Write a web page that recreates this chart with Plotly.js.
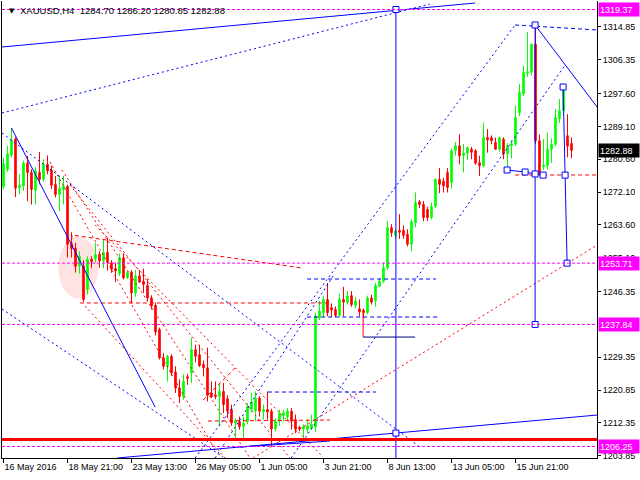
<!DOCTYPE html>
<html>
<head>
<meta charset="utf-8">
<script src="https://cdn.plot.ly/plotly-3.0.1.min.js"></script>
<style>html,body{margin:0;padding:0;background:#fff;}#chart{width:640px;height:480px;}</style>
</head>
<body>
<div id="chart"></div>
<script>
// ---- Chart data (XAUUSD, H4) ----
const tickBars   = [0, 16, 32, 48, 64, 80, 96, 112, 128];
const tickLabels = ["16 May 2016", "18 May 21:00", "23 May 13:00", "26 May 05:00", "1 Jun 05:00",
                    "3 Jun 21:00", "8 Jun 13:00", "13 Jun 05:00", "15 Jun 21:00"];
const priceTicks = [1203.85, 1212.35, 1220.85, 1229.35, 1246.35, 1255.10, 1263.60,
                    1272.10, 1280.60, 1289.10, 1297.60, 1306.35, 1314.85];

const openP = [1273.5,1278.0,1281.7,1285.8,1273.2,1273.7,1279.6,1277.2,1272.6,1277.2,
 1275.4,1279.3,1277.8,1274.1,1271.5,1272.8,1273.6,1258.6,1257.5,1253.0,
 1253.0,1246.9,1254.7,1254.8,1256.0,1254.3,1256.5,1253.8,1252.3,1251.0,
 1255.1,1249.9,1251.4,1246.0,1250.4,1249.0,1247.9,1244.7,1242.8,1236.5,
 1229.2,1227.0,1229.6,1225.5,1221.4,1219.2,1224.3,1225.3,1231.3,1230.0,
 1227.5,1226.6,1220.1,1219.6,1219.2,1220.5,1218.6,1215.8,1212.3,1212.7,
 1211.4,1212.7,1215.8,1215.4,1218.8,1215.2,1215.8,1215.4,1210.8,1212.8,
 1214.2,1213.9,1215.4,1213.2,1211.2,1210.8,1210.7,1211.0,1211.3,1239.5,
 1240.9,1244.3,1242.2,1241.7,1240.2,1244.3,1243.5,1245.3,1242.8,1241.9,
 1241.5,1240.9,1244.7,1244.0,1247.7,1249.0,1252.5,1262.9,1260.9,1262.2,
 1262.2,1261.2,1258.6,1264.2,1269.6,1268.9,1267.6,1265.5,1268.5,1275.4,
 1274.9,1277.2,1274.6,1282.8,1284.1,1281.5,1282.2,1283.2,1282.8,1279.7,
 1278.9,1286.2,1286.2,1285.0,1283.2,1285.8,1282.0,1284.2,1284.5,1292.7,
 1297.5,1302.9,1303.1,1310.4,1285.4,1278.6,1278.9,1283.2,1284.5,1291.1,
 1293.2,1286.7,1284.70];
const highP = [1281.0,1284.1,1288.7,1286.3,1276.7,1280.2,1281.5,1278.0,1278.5,1282.5,
 1280.6,1281.6,1279.0,1276.3,1276.3,1276.3,1274.0,1261.7,1259.0,1256.8,
 1254.5,1255.5,1255.5,1259.0,1256.8,1259.9,1260.3,1254.5,1253.9,1256.2,
 1256.2,1251.8,1251.9,1251.9,1251.9,1252.3,1249.5,1245.4,1243.5,1237.0,
 1230.4,1229.9,1230.1,1227.0,1223.6,1224.9,1225.0,1234.4,1232.6,1232.6,
 1228.5,1231.8,1223.1,1223.1,1222.7,1222.7,1219.5,1217.1,1213.5,1214.0,
 1214.0,1217.5,1220.1,1220.5,1219.3,1217.1,1220.5,1216.0,1213.5,1215.8,
 1215.8,1216.2,1216.2,1214.5,1211.6,1212.0,1213.2,1214.5,1240.9,1244.0,
 1245.3,1248.6,1243.3,1242.5,1245.8,1247.6,1246.5,1246.5,1245.0,1244.3,
 1242.0,1245.3,1245.5,1248.6,1249.8,1253.8,1264.6,1263.8,1262.5,1266.4,
 1263.5,1262.5,1265.0,1272.0,1270.0,1269.8,1268.3,1269.4,1275.6,1278.3,
 1275.8,1278.3,1283.4,1285.1,1287.1,1284.5,1284.0,1283.8,1283.2,1281.5,
 1290.1,1288.4,1286.8,1286.2,1286.5,1286.3,1284.8,1285.5,1294.5,1300.1,
 1304.8,1313.5,1308.5,1315.6,1287.0,1285.8,1287.5,1286.0,1293.6,1296.2,
 1299.6,1292.3,1286.20];
const lowP = [1272.8,1277.3,1281.1,1270.8,1271.6,1272.4,1269.8,1268.9,1268.9,1274.1,
 1274.8,1276.7,1272.9,1270.7,1267.2,1268.9,1255.2,1255.2,1251.3,1251.0,
 1243.6,1245.6,1252.4,1253.8,1252.5,1252.4,1251.8,1251.2,1248.8,1250.4,
 1249.5,1249.6,1243.3,1245.0,1248.6,1246.0,1243.9,1241.7,1235.0,1228.75,
 1226.2,1223.1,1224.6,1220.1,1217.5,1218.4,1222.2,1222.7,1228.0,1226.8,
 1224.4,1217.9,1218.8,1218.5,1211.5,1214.9,1213.6,1211.6,1208.5,1210.6,
 1208.4,1212.0,1215.2,1212.8,1214.0,1213.2,1213.2,1206.3,1210.2,1211.6,
 1212.8,1212.8,1210.6,1209.7,1210.2,1208.5,1209.7,1210.5,1210.0,1239.0,
 1239.7,1239.9,1239.9,1239.7,1239.7,1240.0,1243.0,1242.4,1242.0,1239.9,
 1239.5,1240.5,1243.0,1242.5,1247.5,1248.6,1252.0,1260.5,1260.0,1260.0,
 1260.0,1258.0,1256.8,1263.0,1268.0,1264.6,1264.6,1265.0,1268.0,1271.8,
 1272.0,1272.0,1273.0,1281.6,1279.3,1277.2,1280.4,1280.6,1279.2,1276.3,
 1278.6,1282.3,1284.5,1283.2,1282.6,1280.6,1278.5,1280.8,1284.0,1291.8,
 1297.0,1302.0,1302.2,1284.5,1276.5,1277.8,1278.0,1279.7,1284.0,1290.0,
 1292.0,1281.1,1280.85];
const closeP = [1279.5,1282.0,1285.5,1273.1,1273.9,1279.6,1277.2,1272.8,1277.6,1275.4,
 1279.3,1277.6,1273.9,1271.5,1273.1,1273.7,1258.6,1257.5,1252.9,1255.5,
 1244.3,1254.7,1254.1,1255.9,1254.3,1256.5,1253.9,1252.1,1251.7,1255.1,
 1249.9,1251.3,1246.0,1250.4,1248.8,1248.2,1244.7,1242.6,1235.9,1229.2,
 1227.0,1229.6,1225.3,1221.4,1219.2,1223.1,1223.9,1231.3,1229.6,1227.2,
 1226.6,1219.5,1219.2,1219.2,1220.5,1217.1,1215.4,1212.3,1213.0,1211.4,
 1212.3,1216.6,1217.7,1218.8,1215.4,1215.8,1215.2,1210.8,1212.8,1214.9,
 1215.0,1215.4,1212.8,1210.8,1210.8,1211.5,1211.6,1212.0,1240.0,1241.3,
 1244.3,1240.9,1241.6,1240.2,1244.3,1243.6,1245.2,1243.0,1243.9,1241.1,
 1240.9,1244.7,1243.6,1247.9,1249.0,1252.5,1262.9,1261.6,1262.0,1261.7,
 1260.9,1258.6,1264.4,1269.4,1268.9,1265.5,1265.5,1268.3,1275.4,1274.1,
 1273.7,1273.3,1282.8,1284.1,1281.5,1282.2,1283.6,1282.4,1279.6,1278.9,
 1286.2,1285.6,1285.4,1283.2,1286.2,1282.0,1284.1,1284.6,1291.4,1297.9,
 1303.1,1303.3,1310.4,1285.4,1277.0,1279.1,1283.2,1284.5,1291.4,1293.2,
 1298.5,1284.0,1282.88];

// horizontal price levels (magenta) and current price
const levelPrices = [1319.37, 1253.71, 1237.84, 1206.25];
const lastPrice = 1282.88;
const supportLine = 1208.05;   // thick red level

// drawn objects, as [bar index, price] points
const blueSolid = [
  [[-0.375,1309.66],[117.9,1321.05]],
  [[28.4,1203.27],[148.4,1214.39]],
  [[59.1,1206.1],[81.6,1207.66]],
  [[2,1288.69],[37.9,1216.46]],
  [[132.9,1315.36],[148.4,1294.13]],
  [[125.9,1277.82],[130.4,1277.3],[132.9,1276.8],[134.9,1276.5]],
  [[132.9,1315.36],[132.9,1237.84]],
  [[139.9,1299.31],[140.4,1276.5],[140.6,1259.7],[140.9,1253.71]],
  [[98.1,1319.37],[98.1,1203.27]]
];
const blueDotted = [
  [[-0.375,1292.57],[106.6,1320.79]],
  [[-0.375,1287.4],[104.1,1206.1]],
  [[-0.375,1241.83],[54.9,1203.52]],
  [[47.9,1203.27],[127.9,1315.36]],
  [[71.9,1203.27],[140.4,1305.0]],
  [[52.9,1203.27],[82.4,1250.37]]
];
const blueDashed = [
  [[75.9,1249.6],[108.1,1249.6]],
  [[75.9,1239.77],[109.1,1239.77]],
  [[66.1,1220.35],[93.1,1220.35]],
  [[127.9,1315.36],[148.4,1314.06]]
];
const navySolid = [[[89.9,1234.58],[102.9,1234.58]]];
const redSolid  = [[[89.9,1240.8],[89.9,1234.58]]];
const redDashed = [
  [[17.1,1258.14],[17.1,1260.99],[74.6,1252.45]],
  [[19.1,1243.4],[82.1,1243.4]],
  [[51.1,1212.84],[81.6,1213.1]],
  [[127.9,1276.53],[148.4,1276.53]],
  [[49.9,1218.27],[57.9,1226.56]]
];
const redDotted = [
  [[62.4,1203.27],[148.4,1258.4]],
  [[11.6,1279.89],[52.9,1205.33]],
  [[14.6,1277.82],[61.6,1203.27]],
  [[16.6,1273.94],[71.6,1203.27]],
  [[20.4,1242.61],[55.4,1203.27]],
  [[22.9,1263.58],[79.9,1203.52]]
];
const markers = [[98.1,1319.37],[98.1,1209.72],[132.9,1315.36],[125.9,1277.82],[130.4,1277.3],
  [132.9,1276.8],[134.9,1276.5],[140.4,1276.5],[139.9,1299.31],[140.9,1253.71],[132.9,1237.84]];
const highlightZone = {bars:[13.7,23.7], prices:[1244.55,1260.6]};

// ---- Build traces ----
const barIdx = openP.map((_, i) => i);
const traces = [];
function addLines(list, color, width, dash) {
  list.forEach(pts => traces.push({
    type: 'scatter', mode: 'lines', x: pts.map(p => p[0]), y: pts.map(p => p[1]),
    line: {color: color, width: width, dash: dash}, hoverinfo: 'skip', showlegend: false
  }));
}
traces.push({
  type: 'candlestick', x: barIdx, open: openP, high: highP, low: lowP, close: closeP,
  increasing: {line: {color: '#00FF00', width: 1}, fillcolor: '#00FF00'},
  decreasing: {line: {color: '#FF0000', width: 1}, fillcolor: '#FF0000'},
  whiskerwidth: 0, showlegend: false, hoverinfo: 'skip'
});
addLines(redDotted, '#FF0000', 1, '2px,3px');
addLines(redDashed, '#FF0000', 1, '4px,3px');
addLines(redSolid, '#FF0000', 1, 'solid');
addLines(blueDotted, '#0000FF', 1, '2px,3px');
addLines(blueDashed, '#0000FF', 1, '4px,3px');
addLines(blueSolid, '#0000FF', 1, 'solid');
addLines(navySolid, '#000080', 1, 'solid');
traces.push({
  type: 'scatter', mode: 'markers', x: markers.map(p => p[0]), y: markers.map(p => p[1]),
  marker: {symbol: 'square', size: 6, color: '#FFFFFF', line: {color: '#0000FF', width: 1}},
  hoverinfo: 'skip', showlegend: false
});

const shapes = [];
shapes.push({type: 'circle', xref: 'x', yref: 'y', layer: 'below',
  x0: highlightZone.bars[0], x1: highlightZone.bars[1], y0: highlightZone.prices[0], y1: highlightZone.prices[1],
  fillcolor: '#FFE2E2', line: {width: 0}});
levelPrices.forEach(p => shapes.push({type: 'line', xref: 'paper', yref: 'y', x0: 0, x1: 1, y0: p, y1: p,
  line: {color: '#FF00FF', width: 1, dash: '3px,2px'}}));
shapes.push({type: 'line', xref: 'paper', yref: 'y', x0: 0, x1: 1, y0: supportLine, y1: supportLine,
  line: {color: '#FF0000', width: 3}});

const fontFam = 'Liberation Sans, Arial, sans-serif';
const annotations = [];
levelPrices.forEach(p => annotations.push({
  xref: 'paper', yref: 'y', x: 1, y: p, xanchor: 'left', yanchor: 'middle', xshift: 1,
  text: p.toFixed(2), showarrow: false, bgcolor: '#FF00FF', borderpad: 1, width: 38, height: 11,
  align: 'left', font: {family: fontFam, size: 9, color: '#FFFFFF'}
}));
annotations.push({
  xref: 'paper', yref: 'y', x: 1, y: lastPrice, xanchor: 'left', yanchor: 'middle', xshift: 1,
  text: lastPrice.toFixed(2), showarrow: false, bgcolor: '#000000', borderpad: 1, width: 38, height: 11,
  align: 'left', font: {family: fontFam, size: 9, color: '#FFFFFF'}
});
annotations.push({xref: 'paper', yref: 'paper', x: 0.0269, y: 0.9803, xanchor: 'left', yanchor: 'middle',
  text: 'XAUUSD,H4  ' + [openP[142], highP[142], lowP[142], closeP[142]].map(v => v.toFixed(2)).join(' '),
  showarrow: false, font: {family: fontFam, size: 9.5, color: '#000000'}});
annotations.push({xref: 'paper', yref: 'paper', x: 0.0085, y: 0.979, xanchor: 'left', yanchor: 'middle',
  text: '▼', showarrow: false, font: {family: 'DejaVu Sans', size: 7, color: '#000000'}});

const layout = {
  width: 640, height: 480,
  margin: {l: 2, r: 43, t: 1, b: 22, pad: 0},
  paper_bgcolor: '#FFFFFF', plot_bgcolor: '#FFFFFF',
  showlegend: false, boxgap: 0.45, hovermode: false,
  xaxis: {
    range: [-0.375, 148.375], showgrid: false, zeroline: false,
    showline: true, linecolor: '#000000', linewidth: 1,
    ticks: 'outside', ticklen: 4, tickcolor: '#000000',
    tickvals: tickBars, ticktext: tickLabels, ticklabelposition: 'outside right',
    tickfont: {family: fontFam, size: 9, color: '#000000'},
    rangeslider: {visible: false}, fixedrange: true
  },
  yaxis: {
    side: 'right', range: [1203.27, 1321.57], showgrid: false, zeroline: false,
    showline: true, mirror: true, linecolor: '#000000', linewidth: 1,
    ticks: 'outside', ticklen: 3, tickcolor: '#000000',
    tickvals: priceTicks, ticktext: priceTicks.map(v => v.toFixed(2)),
    tickfont: {family: fontFam, size: 9, color: '#000000'}, fixedrange: true
  },
  shapes: shapes, annotations: annotations
};
Plotly.newPlot('chart', traces, layout, {staticPlot: true, displayModeBar: false});
</script>
</body>
</html>
